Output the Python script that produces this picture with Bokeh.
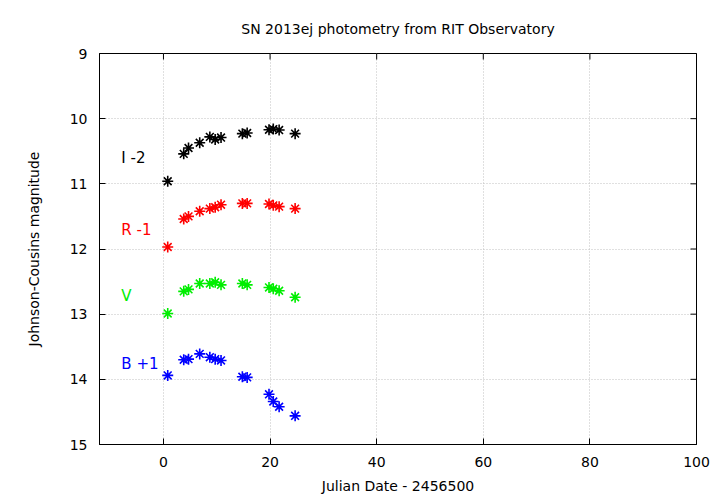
import math
from bokeh.plotting import figure
from bokeh.models import Range1d, Label, FixedTicker
from bokeh.embed import file_html
from bokeh.resources import INLINE

# Julian Date - 2456500
jd = [0.8, 3.8, 4.7, 6.8, 8.7, 9.7, 10.8, 14.8, 15.7, 19.8, 20.6, 21.7, 24.7]
# plotted magnitudes (with offsets applied)
mag_I = [10.96, 10.54, 10.45, 10.37, 10.28, 10.32, 10.29, 10.23, 10.22, 10.17, 10.16, 10.175, 10.23]
mag_R = [11.97, 11.54, 11.50, 11.42, 11.38, 11.36, 11.32, 11.30, 11.30, 11.31, 11.33, 11.35, 11.38]
mag_V = [12.99, 12.65, 12.62, 12.53, 12.53, 12.51, 12.55, 12.53, 12.55, 12.59, 12.61, 12.64, 12.74]
mag_B = [13.94, 13.70, 13.69, 13.61, 13.66, 13.69, 13.71, 13.96, 13.97, 14.23, 14.34, 14.42, 14.56]

band_labels = ["I -2", "R -1", "V", "B +1"]
band_colors = ["black", "red", "#00ee00", "blue"]
label_y = [10.61, 11.71, 12.72, 13.77]
label_x = -7.9

x_ticks = [0, 20, 40, 60, 80, 100]
y_ticks = [9, 10, 11, 12, 13, 14, 15]
title_text = "SN 2013ej photometry from RIT Observatory"

FONT = "DejaVu Sans"

p = figure(width=712, height=496, output_backend="svg", toolbar_location=None,
           x_range=Range1d(-12, 100), y_range=Range1d(15, 9),
           min_border_left=99, min_border_right=16, min_border_top=53, min_border_bottom=48)

p.title.text = title_text
p.title.align = "center"
p.title.text_font = FONT
p.title.text_font_size = "14px"
p.title.text_font_style = "normal"
p.title.text_color = "black"
p.title.text_line_height = 1.0
p.title.standoff = 33

p.outline_line_color = "black"
p.outline_line_width = 1

for ax in (p.xaxis[0], p.yaxis[0]):
    ax.major_tick_in = 6
    ax.major_tick_out = 0
    ax.minor_tick_in = 0
    ax.minor_tick_out = 0
    ax.axis_line_color = "black"
    ax.major_tick_line_color = "black"
    ax.major_label_text_font = FONT
    ax.major_label_text_font_size = "14px"
    ax.axis_label_text_font = FONT
    ax.axis_label_text_font_size = "14px"
    ax.axis_label_text_font_style = "normal"
    ax.axis_label_text_color = "black"
    ax.major_label_text_color = "black"

p.xaxis[0].ticker = FixedTicker(ticks=x_ticks)
p.yaxis[0].ticker = FixedTicker(ticks=y_ticks)
p.xaxis[0].axis_label = "Julian Date - 2456500"
p.yaxis[0].axis_label = "Johnson-Cousins magnitude"
p.xaxis[0].major_label_standoff = 12
p.yaxis[0].major_label_standoff = 12
p.xaxis[0].axis_label_standoff = 8
p.yaxis[0].axis_label_standoff = 25

p.xgrid.ticker = FixedTicker(ticks=x_ticks)
p.ygrid.ticker = FixedTicker(ticks=y_ticks)
for g in (p.xgrid[0], p.ygrid[0]):
    g.grid_line_color = "#c0c0c0"
    g.grid_line_dash = "1 2"
    g.grid_line_width = 1

# mirrored inward ticks on top and right borders (clipped to the frame)
p.scatter(x_ticks, [y_ticks[0]] * len(x_ticks), marker="dash", angle=math.pi / 2,
          size=12, line_color="black", line_width=1)
p.scatter([x_ticks[-1]] * len(y_ticks), y_ticks, marker="dash",
          size=12, line_color="black", line_width=1)

for mags, col in zip([mag_I, mag_R, mag_V, mag_B], band_colors):
    p.scatter(jd, mags, marker="asterisk", size=11, line_color=col, line_width=1.6)

for txt, ly, col in zip(band_labels, label_y, band_colors):
    p.add_layout(Label(x=label_x, y=ly, text=txt, text_color=col, text_font=FONT,
                       text_font_size="15px", text_baseline="middle", text_align="left"))

open("out.html", "w").write(file_html(p, INLINE))
